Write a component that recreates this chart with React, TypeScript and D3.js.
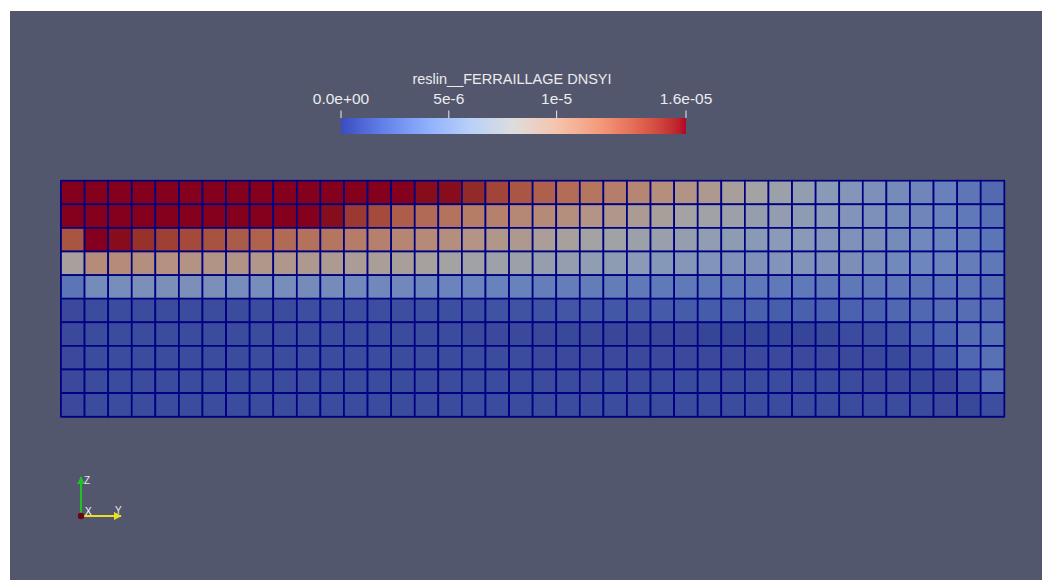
import React from 'react';
import * as d3 from 'd3';

// values in units of 1e-6, row 0 = top of the slab, 40 cells per row
const row0 = [16.4,16.4,16.3,16.3,16.2,16.2,16.1,16.1,16.1,16.0,16.0,16.0,16.0,16.0,16.0,15.9,15.8,15.1,14.1,13.3,12.8,12.2,11.7,11.2,10.7,10.2,9.6,9.1,8.5,8.1,7.4,6.7,6.1,5.7,5.2,4.8,4.4,3.9,3.3,2.6];
const row1 = [16.2,16.2,16.2,16.1,16.1,16.1,16.1,16.0,16.0,16.0,16.0,15.9,14.6,13.8,13.0,12.4,11.9,11.4,11.0,10.6,10.4,10.1,9.7,9.3,8.9,8.5,8.1,7.8,7.4,7.0,6.8,6.4,6.0,5.6,5.2,4.8,4.4,4.0,3.5,2.9];
const row2 = [13.4,16.0,15.8,14.9,14.3,13.9,13.5,13.1,12.7,12.4,12.0,11.7,11.3,11.0,10.7,10.4,10.1,9.7,9.4,9.1,8.7,8.4,8.0,7.7,7.4,7.2,6.9,6.6,6.4,6.1,6.2,6.0,5.7,5.4,5.1,4.8,4.5,4.2,3.7,3.2];
const row3 = [8.4,10.3,10.3,10.1,9.9,9.8,9.6,9.6,9.4,9.3,9.1,9.0,8.8,8.6,8.5,8.3,8.0,7.8,7.5,7.4,7.0,6.9,6.6,6.4,6.2,5.9,5.8,5.6,5.4,5.3,5.6,5.5,5.3,5.1,4.8,4.6,4.3,4.2,3.8,3.4];
const row4 = [3.2,4.8,5.0,5.1,5.1,5.1,5.1,5.0,5.0,5.0,4.8,4.8,4.6,4.5,4.5,4.3,4.2,4.2,4.0,4.0,3.8,3.8,3.7,3.7,3.5,3.5,3.5,3.4,3.4,3.4,3.5,3.5,3.4,3.4,3.4,3.4,3.2,3.2,3.2,2.9];
const row5 = [0.9,1.0,1.0,1.0,1.0,1.0,1.0,1.0,1.0,1.0,1.1,1.1,1.1,1.1,1.1,1.2,1.2,1.2,1.3,1.3,1.4,1.5,1.5,1.6,1.6,1.7,1.8,1.8,1.9,2.0,1.9,2.0,2.1,2.2,2.2,2.4,2.5,2.7,2.8,2.7];
const row6 = [0.9,1.0,1.0,1.0,1.0,1.0,1.0,1.0,1.0,1.0,1.0,1.0,1.0,1.0,1.0,1.0,1.0,0.9,0.9,0.9,0.8,0.8,0.8,0.7,0.7,0.7,0.7,0.6,0.6,0.6,0.6,0.6,0.8,1.0,1.1,1.4,1.8,2.2,2.7,2.9];
const row7 = [0.9,1.0,1.0,1.0,1.0,1.0,1.0,1.0,1.0,1.0,1.0,1.0,1.0,1.0,1.0,1.0,1.0,1.0,1.0,1.0,0.9,0.9,0.9,0.9,0.9,0.9,0.9,0.9,0.9,0.9,0.9,0.9,0.9,0.9,0.9,0.8,1.1,1.6,2.4,3.0];
const row8 = [0.9,1.0,1.0,1.0,1.0,1.0,1.0,1.0,1.0,1.0,1.0,1.0,1.0,1.0,1.0,1.0,1.0,1.0,1.0,1.0,1.0,1.0,1.0,1.0,1.0,1.0,1.0,1.0,1.0,1.0,1.0,1.0,1.0,1.0,0.9,0.9,0.8,0.7,1.3,2.7];
const row9 = [0.9,1.0,1.0,1.0,1.0,1.0,1.0,1.0,1.0,1.0,1.0,1.0,1.0,1.0,1.0,1.0,1.0,1.0,1.0,1.0,1.0,1.0,1.0,1.0,1.0,1.0,1.0,1.0,1.0,1.0,1.0,1.0,1.0,1.0,1.0,1.0,1.0,0.9,0.8,1.1];
const rows = [row0, row1, row2, row3, row4, row5, row6, row7, row8, row9];

const fieldName = 'reslin__FERRAILLAGE DNSYI';
const tickValues = [0, 5e-6, 1e-5, 1.6e-5];
const tickLabels = ['0.0e+00', '5e-6', '1e-5', '1.6e-05'];
const rangeMax = 1.6e-5;

// ParaView "Cool to Warm"
const coolWarmStops = ['#3b4cc0', '#6282ea', '#8db0fe', '#b8d0f9', '#dddddd', '#f5c4ad', '#f49a7b', '#de604d', '#b40426'];

const coolWarm = d3.scaleLinear<string>()
  .domain(d3.range(coolWarmStops.length).map(i => (i / (coolWarmStops.length - 1)) * rangeMax))
  .range(coolWarmStops)
  .interpolate(d3.interpolateLab)
  .clamp(true);

// cells are lit in the 3D view, so they look darker than the bar
const shaded = (v: number) => d3.color(coolWarm(v))!.darker(0.85).formatRgb();

export default function App() {
  const W = 1042, H = 580;
  const cols = d3.range(rows[0].length);
  const x = d3.scaleBand<number>().domain(cols).range([61, 1004.3]);
  const y = d3.scaleBand<number>().domain(d3.range(rows.length)).range([180.7, 416.7]);
  const bar = d3.scaleLinear().domain([0, rangeMax]).range([341, 686]);
  const gradStops = d3.range(0, 1.0001, 0.02);

  const cells = rows.flatMap((r, ri) => r.map((v, ci) => ({ ri, ci, v: v * 1e-6 })));

  return (
    <svg width={W} height={H} style={{ position: 'absolute', left: 0, top: 0 }}
      fontFamily="'Liberation Sans', Arial, sans-serif">
      <defs>
        <linearGradient id="cbar" x1="0" x2="1" y1="0" y2="0">
          {gradStops.map(t => (
            <stop key={t} offset={t} stopColor={coolWarm(t * rangeMax)} />
          ))}
        </linearGradient>
        <filter id="soft" x="-1%" y="-2%" width="102%" height="104%">
          <feGaussianBlur stdDeviation="0.75" />
        </filter>
        <marker id="coneG" viewBox="0 0 10 10" refX="9" refY="5" markerWidth="4" markerHeight="4" orient="auto">
          <path d="M0,0 L10,5 L0,10 z" fill="#22c122" />
        </marker>
        <marker id="coneY" viewBox="0 0 10 10" refX="9" refY="5" markerWidth="4" markerHeight="4" orient="auto">
          <path d="M0,0 L10,5 L0,10 z" fill="#e8e020" />
        </marker>
      </defs>

      <rect width={W} height={H} fill="#ffffff" />
      <rect x={10} y={11} width={W - 10} height={H - 11} fill="#52576e" />

      {/* mesh */}
      <g filter="url(#soft)">
        <rect x={x(0)! - 0.8} y={y(0)! - 0.8} width={x.range()[1] - x.range()[0] + 1.6}
          height={y.range()[1] - y.range()[0] + 1.6} rx={2.5} fill="#000080" />
        {cells.map(c => (
          <rect key={`${c.ri}-${c.ci}`} x={x(c.ci)!} y={y(c.ri)!}
            width={x.bandwidth()} height={y.bandwidth()}
            fill={shaded(c.v)} stroke="#000082" strokeWidth={1.7} />
        ))}
      </g>

      {/* scalar bar */}
      <text x={512} y={84} textAnchor="middle" fontSize={14.5} fill="#ececec">{fieldName}</text>
      <rect x={bar(0)} y={118} width={bar(rangeMax) - bar(0)} height={16} fill="url(#cbar)" />
      {tickValues.map((t, i) => (
        <g key={t} transform={`translate(${bar(t)},0)`}>
          <line y1={110.5} y2={118} stroke="#ececec" strokeWidth={1} />
          <text y={103.5} textAnchor="middle" fontSize={15.5} fill="#ececec">{tickLabels[i]}</text>
        </g>
      ))}

      {/* orientation axes */}
      <g>
        <line x1={81} y1={516} x2={81} y2={477} stroke="#22c122" strokeWidth={2} markerEnd="url(#coneG)" />
        <line x1={81} y1={516} x2={121} y2={516} stroke="#e8e020" strokeWidth={2} markerEnd="url(#coneY)" />
        <circle cx={81} cy={516} r={3.2} fill="#6e0010" />
        <text x={84} y={484} fontSize={10} fill="#e6e6e6">Z</text>
        <text x={85} y={515} fontSize={10} fill="#ffffff">X</text>
        <text x={115} y={514} fontSize={10} fill="#e6e6e6">Y</text>
      </g>
    </svg>
  );
}
